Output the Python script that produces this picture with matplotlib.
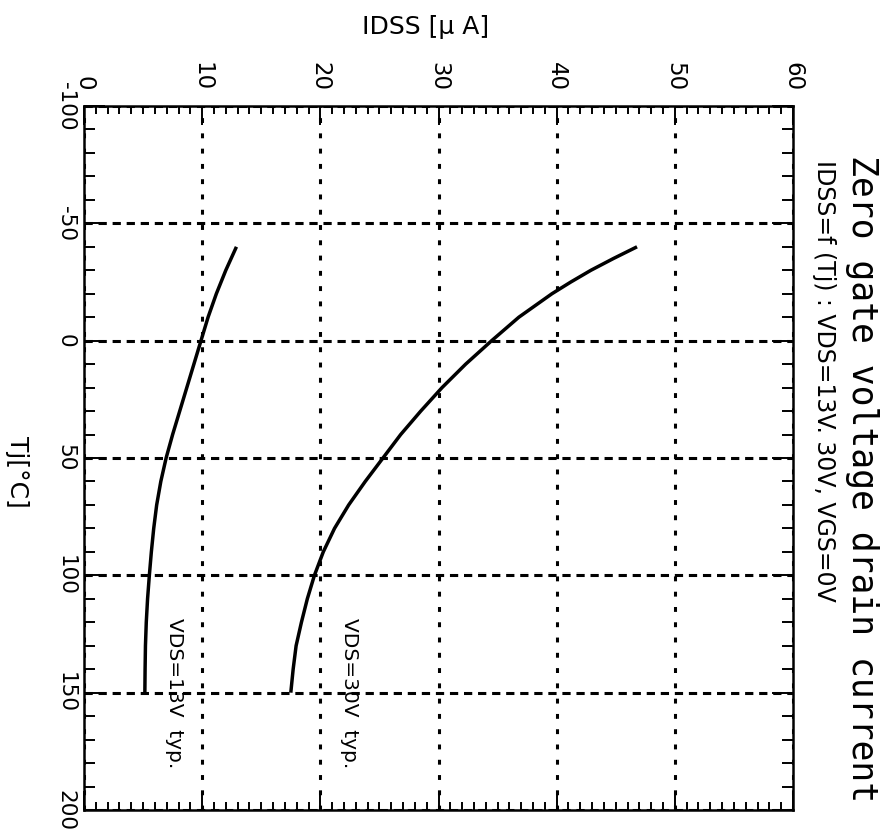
import matplotlib.pyplot as plt
from matplotlib.ticker import MultipleLocator

# junction temperature [degC] and zero gate voltage drain current [uA]
tj = [-40, -35, -30, -25, -20, -10, 0, 10, 20, 30, 40, 50,
      60, 70, 80, 90, 100, 110, 120, 130, 140, 150]
idss_13v = [12.9, 12.45, 12.0, 11.6, 11.2, 10.5, 9.9, 9.3, 8.7, 8.1, 7.5, 6.95,
            6.5, 6.15, 5.9, 5.7, 5.53, 5.38, 5.27, 5.2, 5.17, 5.15]
idss_30v = [46.8, 44.8, 42.9, 41.2, 39.6, 36.8, 34.5, 32.3, 30.3, 28.5, 26.8, 25.3,
            23.8, 22.4, 21.2, 20.25, 19.5, 18.9, 18.4, 17.95, 17.7, 17.5]

idss_ticks = [0, 10, 20, 30, 40, 50, 60]
tj_ticks = [-100, -50, 0, 50, 100, 150, 200]

plt.rcParams['axes.unicode_minus'] = False

fig = plt.figure(figsize=(8.9, 8.4), dpi=100)
ax = fig.add_axes([84 / 890, 1 - 810 / 840, 709 / 890, 704 / 840])

# curves: IDSS on the horizontal axis, Tj running downwards
ax.plot(idss_13v, tj, color='black', lw=2.5, solid_capstyle='butt',
        solid_joinstyle='round', zorder=3)
ax.plot(idss_30v, tj, color='black', lw=2.5, solid_capstyle='butt',
        solid_joinstyle='round', zorder=3)

ax.set_xlim(idss_ticks[0], idss_ticks[-1])
ax.set_ylim(tj_ticks[-1], tj_ticks[0])
ax.xaxis.tick_top()
ax.set_xticks(idss_ticks)
ax.set_yticks(tj_ticks)
ax.xaxis.set_minor_locator(MultipleLocator(1))
ax.yaxis.set_minor_locator(MultipleLocator(10))

ax.tick_params(which='both', direction='in', top=True, bottom=True,
               left=True, right=True, width=1.4, color='black',
               labeltop=True, labelbottom=False)
ax.tick_params(axis='x', which='major', length=14, pad=11,
               labelsize=16.5, labelrotation=-90)
ax.tick_params(axis='x', which='minor', length=6)
ax.tick_params(axis='y', which='major', length=15, pad=6,
               labelsize=15.5, labelrotation=-90)
ax.tick_params(axis='y', which='minor', length=8)
for lbl in ax.get_yticklabels():
    lbl.set_verticalalignment('center')

for sp in ax.spines.values():
    sp.set_linewidth(1.8)

# dotted grid
ax.xaxis.grid(True, which='major', color='black', lw=2.2,
              linestyle=(0, (1.6, 3.4)))
ax.yaxis.grid(True, which='major', color='black', lw=2.2,
              linestyle=(0, (2.7, 1.9)))
ax.set_axisbelow(True)

# curve labels
ax.text(7.7, 118, 'VDS=13V  typ.', rotation=-90, ha='center', va='top',
        fontsize=14.5)
ax.text(22.5, 118, 'VDS=30V  typ.', rotation=-90, ha='center', va='top',
        fontsize=14.5)

# axis titles
fig.text(426 / 890, 1 - 27 / 840, 'IDSS [μ A]', ha='center', va='center',
         fontsize=18)
fig.text(17 / 890, 1 - 472 / 840, 'Tj[°C]', rotation=-90, ha='center',
         va='center', fontsize=18)

# chart title
fig.text(862 / 890, 1 - 155 / 840, 'Zero gate voltage drain current',
         rotation=-90, ha='center', va='top', family='DejaVu Sans Mono',
         fontsize=25)
fig.text(824 / 890, 1 - 160 / 840, 'IDSS=f (Tj) : VDS=13V. 30V, VGS=0V',
         rotation=-90, ha='center', va='top', fontsize=17)

fig.savefig('out.png', dpi=100)
